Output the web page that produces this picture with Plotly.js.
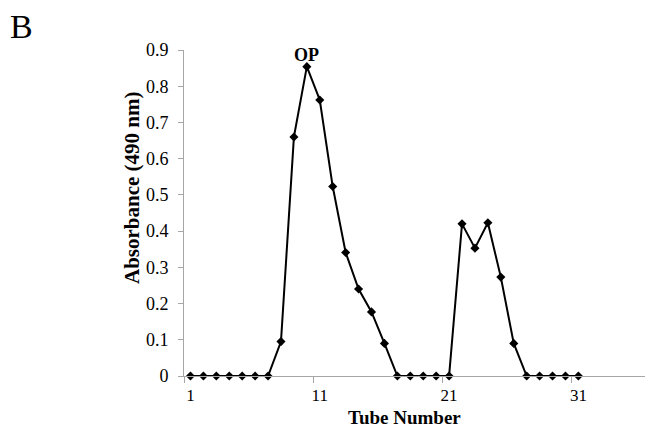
<!DOCTYPE html>
<html>
<head>
<meta charset="utf-8">
<script src="https://cdn.plot.ly/plotly-3.0.1.min.js"></script>
<style>html,body{margin:0;padding:0;background:#fff;}#chart{width:645px;height:429px;}</style>
</head>
<body>
<div id="chart"></div>
<script>
const tubes = [1,2,3,4,5,6,7,8,9,10,11,12,13,14,15,16,17,18,19,20,21,22,23,24,25,26,27,28,29,30,31];
const absorbance = [0,0,0,0,0,0,0,0.095,0.66,0.854,0.762,0.523,0.341,0.24,0.177,0.09,0,0,0,0,0,0.42,0.353,0.423,0.273,0.09,0,0,0,0,0];
const xTickVals = [1,11,21,31];
const yTickVals = [0,0.1,0.2,0.3,0.4,0.5,0.6,0.7,0.8,0.9];
const yTickText = ['0','0.1','0.2','0.3','0.4','0.5','0.6','0.7','0.8','0.9'];
const xTitle = 'Tube Number';
const yTitle = 'Absorbance (490 nm)';
const peakLabel = 'OP';
const peakTube = 10;
const peakValue = 0.854;

const serif = '"Liberation Serif", "Times New Roman", serif';
const L = 184, T = 50, W = 461, H = 326;
const px = v => (v - L) / W;
const py = v => (T + H - v) / H;

const trace = {
  x: tubes, y: absorbance, type: 'scatter', mode: 'lines+markers',
  line: {color: '#000', width: 2},
  marker: {symbol: 'diamond', size: 7, color: '#000'},
  hoverinfo: 'none', cliponaxis: false
};

const tickTrace = {x: [1], y: [0], xaxis: 'x2', yaxis: 'y', mode: 'markers', marker: {opacity: 0}, hoverinfo: 'none'};

const layout = {
  width: 645, height: 429,
  margin: {l: L, r: 645 - L - W, t: T, b: 429 - T - H},
  paper_bgcolor: '#fff', plot_bgcolor: '#fff',
  showlegend: false,
  font: {family: serif, color: '#000', size: 18},
  xaxis: {
    range: [0.5, 36.15], showgrid: false, zeroline: false,
    showline: true, linecolor: '#a6a6a6', linewidth: 1,
    tickmode: 'array', tickvals: xTickVals, ticktext: xTickVals.map(String),
    ticks: '', ticklabelstandoff: 4, tickfont: {family: serif, size: 17, color: '#000'}
  },
  xaxis2: {
    overlaying: 'x', range: [0.5, 36.15], showgrid: false, zeroline: false,
    showline: false, tickmode: 'array', tickvals: [0.5,10.5,20.5,30.5],
    ticks: 'outside', ticklen: 6, tickcolor: '#a6a6a6', showticklabels: false
  },
  yaxis: {
    range: [0, 0.9], showgrid: false, zeroline: false,
    showline: true, linecolor: '#a6a6a6', linewidth: 1,
    tickmode: 'array', tickvals: yTickVals, ticktext: yTickText,
    ticks: 'outside', ticklen: 5, tickcolor: '#a6a6a6', ticklabelstandoff: 6,
    tickfont: {family: serif, size: 18, color: '#000'}
  },
  annotations: [
    {x: peakTube, y: peakValue, xref: 'x', yref: 'y', text: '<b>' + peakLabel + '</b>', showarrow: false,
     yanchor: 'bottom', yshift: 0, font: {family: serif, size: 18, color: '#000'}},
    {x: px(8), y: py(6), xref: 'paper', yref: 'paper', text: 'B', showarrow: false,
     xanchor: 'left', yanchor: 'top', font: {family: serif, size: 34, color: '#000'}},
    {x: px(404), y: py(429), xref: 'paper', yref: 'paper', text: '<b>' + xTitle + '</b>', showarrow: false,
     borderpad: 0, xanchor: 'center', yanchor: 'bottom', font: {family: serif, size: 19, color: '#000'}},
    {x: px(132), y: py(188), xref: 'paper', yref: 'paper', text: '<b>' + yTitle + '</b>', showarrow: false,
     textangle: -90, xanchor: 'center', yanchor: 'middle', font: {family: serif, size: 21, color: '#000'}}
  ]
};

Plotly.newPlot('chart', [tickTrace, trace], layout, {staticPlot: true});
</script>
</body>
</html>
